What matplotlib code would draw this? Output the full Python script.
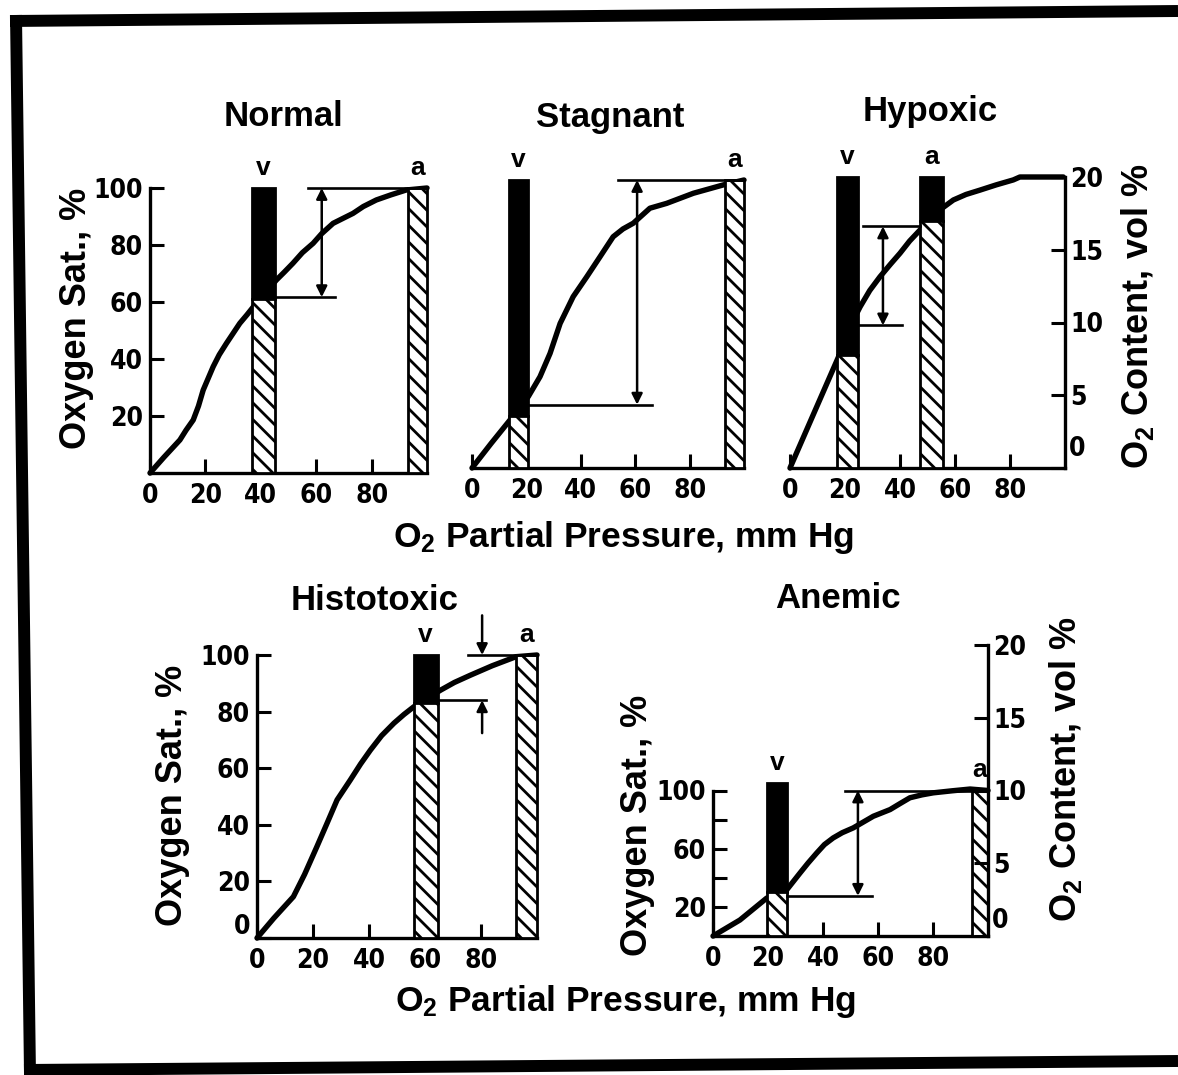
import matplotlib
matplotlib.use('Agg')
import matplotlib.pyplot as plt
from matplotlib.lines import Line2D

W, H, DPI = 1178, 1075, 100

# ---------------- data (PO2 in mm Hg, saturation in %) ----------------
normal_po2 = [0, 5, 10.8, 13, 15.6, 17.5, 19.2, 22.8, 25, 27.6, 30, 32.4, 35, 37.8, 41, 45.6, 48.5,
              51.6, 55, 58.9, 62, 66.1, 70, 73.3, 77, 81.7, 87, 92.5, 100]
normal_sat = [0, 5.5, 11.6, 15, 18.6, 23.5, 29.1, 37.3, 41.5, 45.5, 49, 52.5, 55.5, 58.9, 62.5, 67.7, 70.5,
              73.6, 77.3, 80.6, 84, 87.6, 89.5, 91.1, 93.5, 95.8, 97.6, 99.3, 100]

stagnant_po2 = [0, 7, 14, 20.7, 25, 28.7, 32.4, 37.2, 42.2, 47.1, 51.9, 55.5, 59.3, 65.4, 71.6, 81.4, 92.4, 100]
stagnant_sat = [0, 8.5, 16.7, 24.8, 31.7, 39.8, 50.2, 59.5, 66.4, 73.4, 80.3, 83, 85, 90.2, 91.9, 95.4, 98.3, 100]

hypoxic_po2 = [0, 9, 18.2, 21.5, 25.5, 29, 32.7, 36.5, 40, 43.5, 47.3, 51, 54.5, 59.4, 64, 69.1, 75, 81.2, 83.6, 99.4]
hypoxic_sat = [0, 19.5, 39.4, 48, 55.4, 61, 65.7, 70, 73.8, 78, 81.8, 85.5, 88.7, 92.1, 94, 95.5, 97.3, 99, 100, 100]

histotoxic_po2 = [0, 6, 13, 17, 21.4, 25, 28.6, 33.3, 37, 40.5, 44.5, 48.9, 52.5, 56, 60.5, 65.6, 70.5,
                  76.3, 84, 92.5, 100]
histotoxic_sat = [0, 7, 14.6, 22.5, 32.3, 40.5, 48.8, 55.8, 61.5, 66.4, 71.5, 75.9, 79, 81.7, 84.5, 87.6, 90.3,
                  92.9, 96.2, 99.4, 100]

anemic_po2 = [0, 9.8, 19.5, 26.8, 31.6, 34.5, 37.7, 40.5, 43.7, 47, 51, 58.3, 64.4, 68, 71.6, 76, 80.1, 87,
              93.5, 100]
anemic_sat = [0, 11, 26, 31.7, 43.2, 50, 57, 62.8, 67.4, 71, 74.3, 82.3, 86.9, 91, 95, 97, 98.4, 99.8,
              101, 100]

# bars: (left PO2, right PO2, top of hatched part, top of bar)
normal_v = (37, 45, 61, 100)
normal_a = (93, 100, 100, 100)
stagnant_v = (13.6, 20.6, 18, 100)
stagnant_a = (93, 100, 100, 100)
hypoxic_v = (17, 24.7, 39, 100)
hypoxic_a = (47.3, 55.6, 85, 100)
histotoxic_v = (56, 64.5, 83, 100)
histotoxic_a = (92.5, 100, 100, 100)
anemic_v = (19.6, 27, 30, 105)
anemic_a = (94, 100, 100, 100)

# horizontal reference lines: (x start, x end, sat)
normal_hlines = [(57, 100, 100), (45, 66.7, 61.7)]
stagnant_hlines = [(53.7, 100, 100), (20.6, 66, 22)]
hypoxic_hlines = [(26.5, 47.3, 83), (24.7, 40.7, 49)]
histotoxic_hlines = [(75.5, 100, 100), (64.5, 81.7, 84)]
anemic_hlines = [(48, 100, 100), (27, 57.8, 27.6)]

# arrows: (x, from sat, to sat, style)
normal_arrows = [(62, 61.7, 100, '<|-|>')]
stagnant_arrows = [(60.7, 22, 100, '<|-|>')]
hypoxic_arrows = [(33.8, 49, 83, '<|-|>')]
histotoxic_arrows = [(80.4, 114, 100, '-|>'), (80.4, 72.4, 84, '-|>')]
anemic_arrows = [(52.7, 27.6, 100, '<|-|>')]

titles = ['Normal', 'Stagnant', 'Hypoxic', 'Histotoxic', 'Anemic']
x_ticks = [0, 20, 40, 60, 80]
sat_ticks = [20, 40, 60, 80, 100]
histo_sat_ticks = [0, 20, 40, 60, 80, 100]
anemic_sat_labels = ['20', '', '60', '', '100']
content_ticks = [0, 5, 10, 15, 20]

ylabel_sat = 'Oxygen Sat., %'
ylabel_content = r'O$_{\mathrm{2}}$ Content, vol %'
xlabel = r'O$_{\mathrm{2}}$ Partial Pressure, mm Hg'

# ---------------- style ----------------
plt.rcParams['mathtext.fontset'] = 'custom'
plt.rcParams['mathtext.rm'] = 'Liberation Sans:bold'
plt.rcParams['mathtext.it'] = 'Liberation Sans:bold'
plt.rcParams['mathtext.bf'] = 'Liberation Sans:bold'
plt.rcParams['hatch.linewidth'] = 2.0
LBL = dict(family='Liberation Sans', weight='bold')
TICKFONT = dict(family='DejaVu Sans', weight='bold', stretch='condensed', size=19)

fig = plt.figure(figsize=(W / DPI, H / DPI), dpi=DPI)
fig.patch.set_facecolor('white')


def px_axes(x0, x1, ybot, ytop):
    return fig.add_axes([x0 / W, 1 - ybot / H, (x1 - x0) / W, (ybot - ytop) / H])


def style_ticks(ax):
    ax.tick_params(direction='in', length=10, width=2.2, colors='black')
    ax.tick_params(axis='x', pad=7)
    ax.tick_params(axis='y', pad=5)
    for lab in ax.get_xticklabels() + ax.get_yticklabels():
        lab.set(**TICKFONT)


def zero_label(ax, xfrac, dx, dy, ha):
    # '0' of a y axis, drawn slightly above the corner as in the original figure
    ax.annotate(str(content_ticks[0]), xy=(xfrac, 0), xycoords=('axes fraction', 'data'),
                xytext=(dx, dy), textcoords='offset points', ha=ha, va='center',
                annotation_clip=False, **TICKFONT)


def draw_panel(ax, po2, sat, vbar, abar, hlines, arrows, ymax=100):
    ax.set_xlim(0, 100)
    ax.set_ylim(0, ymax)
    ax.patch.set_alpha(0)
    ax.plot(po2, sat, color='black', lw=3.9, solid_capstyle='round', solid_joinstyle='round',
            zorder=2, clip_on=False)
    for (l, r, split, top), label in ((vbar, 'v'), (abar, 'a')):
        if top > split:
            ax.bar(l, top - split, width=r - l, bottom=split, align='edge', color='black',
                   edgecolor='black', lw=2, zorder=3, clip_on=False)
        ax.bar(l, split, width=r - l, bottom=0, align='edge', color='white', hatch='\\\\',
               edgecolor='black', lw=2, zorder=3, clip_on=False)
        ax.annotate(label, xy=((l + r) / 2, top), xytext=(0, 6), textcoords='offset points',
                    ha='center', va='bottom', fontsize=19, annotation_clip=False, **LBL)
    for x0, x1, y in hlines:
        ax.plot([x0, x1], [y, y], color='black', lw=1.9, zorder=4, clip_on=False)
    for x, y0, y1, st in arrows:
        ax.annotate('', xy=(x, y1), xytext=(x, y0), annotation_clip=False,
                    arrowprops=dict(arrowstyle=st, lw=1.8, color='black', mutation_scale=16,
                                    shrinkA=0, shrinkB=0))
    ax.spines['top'].set_visible(False)
    ax.spines['right'].set_visible(False)
    for s in ax.spines.values():
        s.set_linewidth(2.4)
    ax.set_xticks(x_ticks)
    ax.set_xticklabels([str(t) for t in x_ticks])


def add_content_axis(ax, zero_dy):
    ax2 = ax.twinx()
    ax2.set_ylim(0, 20)
    ax2.set_yticks(content_ticks)
    ax2.set_yticklabels([''] + [str(t) for t in content_ticks[1:]])
    for k in ('top', 'left', 'bottom'):
        ax2.spines[k].set_visible(False)
    ax2.spines['right'].set_linewidth(2.4)
    ax2.tick_params(direction='in', length=10, width=2.2, pad=4)
    for lab in ax2.get_yticklabels():
        lab.set(**TICKFONT)
    zero_label(ax2, 1, 3, zero_dy, 'left')
    return ax2


# Normal
ax1 = px_axes(150, 427, 473, 188)
draw_panel(ax1, normal_po2, normal_sat, normal_v, normal_a, normal_hlines, normal_arrows)
ax1.set_yticks(sat_ticks)
ax1.set_yticklabels([str(t) for t in sat_ticks])
style_ticks(ax1)

# Stagnant
ax2 = px_axes(472, 744, 468, 180)
draw_panel(ax2, stagnant_po2, stagnant_sat, stagnant_v, stagnant_a, stagnant_hlines, stagnant_arrows)
ax2.spines['left'].set_visible(False)
style_ticks(ax2)
ax2.tick_params(axis='y', left=False, labelleft=False)

# Hypoxic
ax3 = px_axes(790, 1065, 468, 177)
draw_panel(ax3, hypoxic_po2, hypoxic_sat, hypoxic_v, hypoxic_a, hypoxic_hlines, hypoxic_arrows)
ax3.spines['left'].set_visible(False)
style_ticks(ax3)
add_content_axis(ax3, 14)
ax3.tick_params(axis='y', left=False, labelleft=False, right=False, labelright=False)

# Histotoxic
ax4 = px_axes(257, 537, 938, 655)
draw_panel(ax4, histotoxic_po2, histotoxic_sat, histotoxic_v, histotoxic_a, histotoxic_hlines,
           histotoxic_arrows)
ax4.set_yticks(histo_sat_ticks)
ax4.set_yticklabels([''] + [str(t) for t in histo_sat_ticks[1:]])
style_ticks(ax4)
zero_label(ax4, 0, -5, 8, 'right')

# Anemic
ax5 = px_axes(713, 988, 936, 645)
draw_panel(ax5, anemic_po2, anemic_sat, anemic_v, anemic_a, anemic_hlines, anemic_arrows, ymax=200)
ax5.spines['left'].set_bounds(0, 100)
ax5.set_yticks(sat_ticks)
ax5.set_yticklabels(anemic_sat_labels)
style_ticks(ax5)
add_content_axis(ax5, 11)
ax5.tick_params(axis='y', right=False, labelright=False)

# titles
title_pos = [(283, 117), (610, 117), (930, 112), (375, 601), (838, 598)]
for t, (x, y) in zip(titles, title_pos):
    fig.text(x / W, 1 - y / H, t, ha='center', va='center', fontsize=25, **LBL)

# axis labels
for x, y in [(76, 318), (172, 795), (637, 825)]:
    fig.text(x / W, 1 - y / H, ylabel_sat, rotation=90, ha='center', va='center', fontsize=26, **LBL)
for x, y in [(1137, 316), (1065, 769)]:
    fig.text(x / W, 1 - y / H, ylabel_content, rotation=90, ha='center', va='center', fontsize=26, **LBL)
for x, y in [(623, 537), (625, 1002)]:
    fig.text(x / W, 1 - y / H, xlabel, ha='center', va='center', fontsize=25.5, **LBL)

# scanned page frame
frame = [((10, 21), (1178, 11)), ((16, 15), (30, 1075)), ((24, 1070), (1178, 1061))]
for (xa, ya), (xb, yb) in frame:
    fig.add_artist(Line2D([xa / W, xb / W], [1 - ya / H, 1 - yb / H], color='black', lw=8.6,
                          transform=fig.transFigure, solid_capstyle='butt'))

fig.savefig('out.png', dpi=DPI, facecolor='white')
